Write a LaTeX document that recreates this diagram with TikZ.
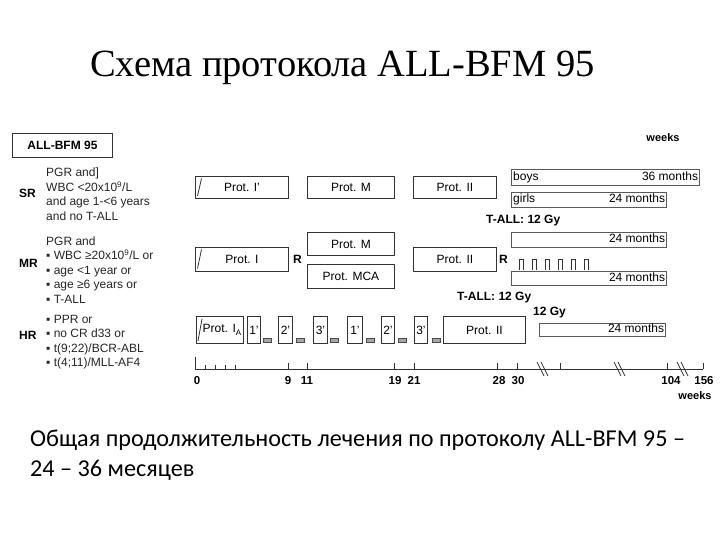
\documentclass[tikz,border=0pt]{standalone}
\usepackage{fontspec}
\setmainfont{Liberation Sans}
\newfontfamily\titlefont{Liberation Serif}
\newfontfamily\bodyfont{Carlito}
\newcommand\pboxat[6]{\node[pbox, minimum width={#4pt-#2pt}, minimum height={#5pt-#3pt}] (#1) at (#2,#3) {#6};}
\newcommand\barat[5]{\node[barbox, minimum width={#4pt-#2pt}, minimum height={#5pt-#3pt}] (#1) at (#2,#3) {};}
\newcommand\smallat[3]{\node[smallbox] (#1) at (#2,#3) {};}
\begin{document}
\begin{tikzpicture}[x=1pt,y=-1pt,
  pbox/.style={draw=black!80, line width=0.9pt, fill=white, inner sep=0pt, anchor=north west, font=\fontsize{12}{14}\selectfont},
  barbox/.style={draw=black!65, line width=1.3pt, fill=white, inner sep=0pt, anchor=north west},
  bartxt/.style={inner sep=2pt, font=\fontsize{12}{14}\selectfont},
  smallbox/.style={draw=black!70, fill=black!35, line width=0.5pt, inner sep=0pt, minimum width=8pt, minimum height=4pt, anchor=north west},
  crit/.style={anchor=base west, inner sep=0pt, font=\fontsize{12}{13}\selectfont, text=black!85},
  grp/.style={anchor=base west, inner sep=0pt, font=\fontsize{12}{14}\selectfont\bfseries},
  bld/.style={anchor=base west, inner sep=0pt, font=\fontsize{12}{14}\selectfont\bfseries},
  num/.style={anchor=base, inner sep=0pt, font=\fontsize{11.5}{13}\selectfont\bfseries},
  tl/.style={line width=0.8pt, black!80}]
\useasboundingbox (0,0) rectangle (720,540);

% title
\node[anchor=base west, inner sep=0pt, font=\titlefont\fontsize{38.5}{44}\selectfont] (title) at (90,77) {Схема протокола ALL-BFM 95};

% header box
\node[draw=black!80, line width=0.9pt, anchor=north west, minimum width=100pt, minimum height=24pt, inner sep=0pt, font=\fontsize{12}{14}\selectfont\bfseries] (hdr) at (12,133) {ALL-BFM 95};
\node[anchor=base, inner sep=0pt, font=\fontsize{11}{13}\selectfont\bfseries] (wk1) at (663,142) {weeks};

% SR criteria
\node[grp] (sr) at (19,197) {SR};
\node[crit] (sr1) at (46,177) {PGR and]};
\node[crit] (sr2) at (46,191.5) {WBC <20x10\textsuperscript{9}/L};
\node[crit] (sr3) at (46,206) {and age 1-<6 years};
\node[crit] (sr4) at (46,220.5) {and no T-ALL};

% MR criteria
\node[grp] (mr) at (19,267) {MR};
\node[crit] (mr1) at (46,245) {PGR and};
\node[crit] (mr2) at (46,259.5) {▪ WBC ≥20x10\textsuperscript{9}/L or};
\node[crit] (mr3) at (46,274) {▪ age <1 year or};
\node[crit] (mr4) at (46,288.5) {▪ age ≥6 years or};
\node[crit] (mr5) at (46,303) {▪ T-ALL};

% HR criteria
\node[grp] (hr) at (19,339) {HR};
\node[crit] (hr1) at (46,323) {▪ PPR or};
\node[crit] (hr2) at (46,337.5) {▪ no CR d33 or};
\node[crit] (hr3) at (46,352) {▪ t(9;22)/BCR-ABL};
\node[crit] (hr4) at (46,366.5) {▪ t(4;11)/MLL-AF4};

% SR row
\pboxat{srI}{195}{176}{288}{198}{Prot. I'}
\pboxat{srM}{307}{176}{394}{198}{Prot. M}
\pboxat{srII}{413}{176}{496}{198}{Prot. II}
\draw[black!80, line width=0.8pt] (197.5,196) -- (201.5,178.5);
\barat{boys}{511}{169}{699}{185}
\node[bartxt, anchor=mid west] (boyst) at (boys.west) {boys};
\node[bartxt, anchor=mid east] (boysm) at (boys.east) {36 months};
\barat{girls}{511}{192}{666}{207}
\node[bartxt, anchor=mid west] (girlst) at (girls.west) {girls};
\node[bartxt, anchor=mid east] (girlsm) at (girls.east) {24 months};
\node[bld] (tall1) at (486,224) {T-ALL: 12 Gy};

% MR row
\pboxat{mrI}{195}{247}{288}{271}{Prot. I}
\draw[black!80, line width=0.8pt] (197.5,268.5) -- (201.5,249.5);
\node[bld] (r1) at (293,263) {R};
\pboxat{mrM}{307}{232}{394}{255}{Prot. M}
\pboxat{mrMCA}{307}{264}{394}{288}{Prot. MCA}
\pboxat{mrII}{413}{247}{496}{271}{Prot. II}
\node[bld] (r2) at (499,263) {R};
\barat{mrbar1}{511}{232}{666}{247}
\node[bartxt, anchor=mid east] (mrm1) at (mrbar1.east) {24 months};
\barat{mrbar2}{511}{271}{666}{285}
\node[bartxt, anchor=mid east] (mrm2) at (mrbar2.east) {24 months};
\foreach \px in {519,532,545,558,571,584}
  \draw[black!80, line width=0.7pt] (\px,270) -- (\px,259) -- (\px+4,259) -- (\px+4,270);
\node[bld] (tall2) at (457,300) {T-ALL: 12 Gy};
\node[bld] (gy) at (533,315) {12 Gy};

% HR row
\pboxat{hrIA}{196}{316}{243}{343}{\hspace*{4pt}Prot. I\raisebox{-2.5pt}{\fontsize{8}{9}\selectfont A}}
\draw[black!80, line width=0.8pt] (198,341) -- (202,319);
\pboxat{h1}{247}{316}{260}{343}{1'}
\smallat{s1}{263}{338}
\pboxat{h2}{278}{316}{292}{343}{2'}
\smallat{s2}{296}{338}
\pboxat{h3}{313}{316}{327}{343}{3'}
\smallat{s3}{330}{338}
\pboxat{h4}{347}{316}{362}{343}{1'}
\smallat{s4}{366}{338}
\pboxat{h5}{381}{316}{394}{343}{2'}
\smallat{s5}{398}{338}
\pboxat{h6}{414}{316}{427}{343}{3'}
\smallat{s6}{432}{338}
\pboxat{hrII}{443}{316}{525}{343}{Prot. II}
\barat{hrbar}{539}{323}{665}{336}
\node[bartxt, anchor=mid east] (hrm) at (hrbar.east) {24 months};

% timeline
\draw[tl] (195,369) -- (703,369);
\draw[tl] (195,357) -- (195,369);
\foreach \tx in {205,215,225,235} \draw[tl, line width=0.6pt] (\tx,365) -- (\tx,369);
\foreach \tx in {288,307,394,414,497,517,560,667,703} \draw[tl, line width=0.7pt] (\tx,363) -- (\tx,369);
\foreach \bx in {543,620,683} {
  \draw[black!80, line width=0.7pt] (\bx-6,362) -- (\bx+1,376);
  \draw[black!80, line width=0.7pt] (\bx-2,362) -- (\bx+5,376);
}
\node[num] (n0) at (197,384) {0};
\node[num] (n9) at (288,384) {9};
\node[num] (n11) at (307,384) {11};
\node[num] (n19) at (395,384) {19};
\node[num] (n21) at (414,384) {21};
\node[num] (n28) at (499,384) {28};
\node[num] (n30) at (518,384) {30};
\node[num] (n104) at (671,384) {104};
\node[num] (n156) at (704,384) {156};
\node[num, font=\fontsize{11}{13}\selectfont\bfseries] (wk2) at (695,399) {weeks};

% bottom text
\node[anchor=base west, inner sep=0pt, font=\bodyfont\fontsize{24.2}{30}\selectfont] (b1) at (30,446) {Общая продолжительность лечения по протоколу ALL-BFM 95 –};
\node[anchor=base west, inner sep=0pt, font=\bodyfont\fontsize{24.2}{30}\selectfont] (b2) at (30,476) {24 – 36 месяцев};
\end{tikzpicture}
\end{document}
